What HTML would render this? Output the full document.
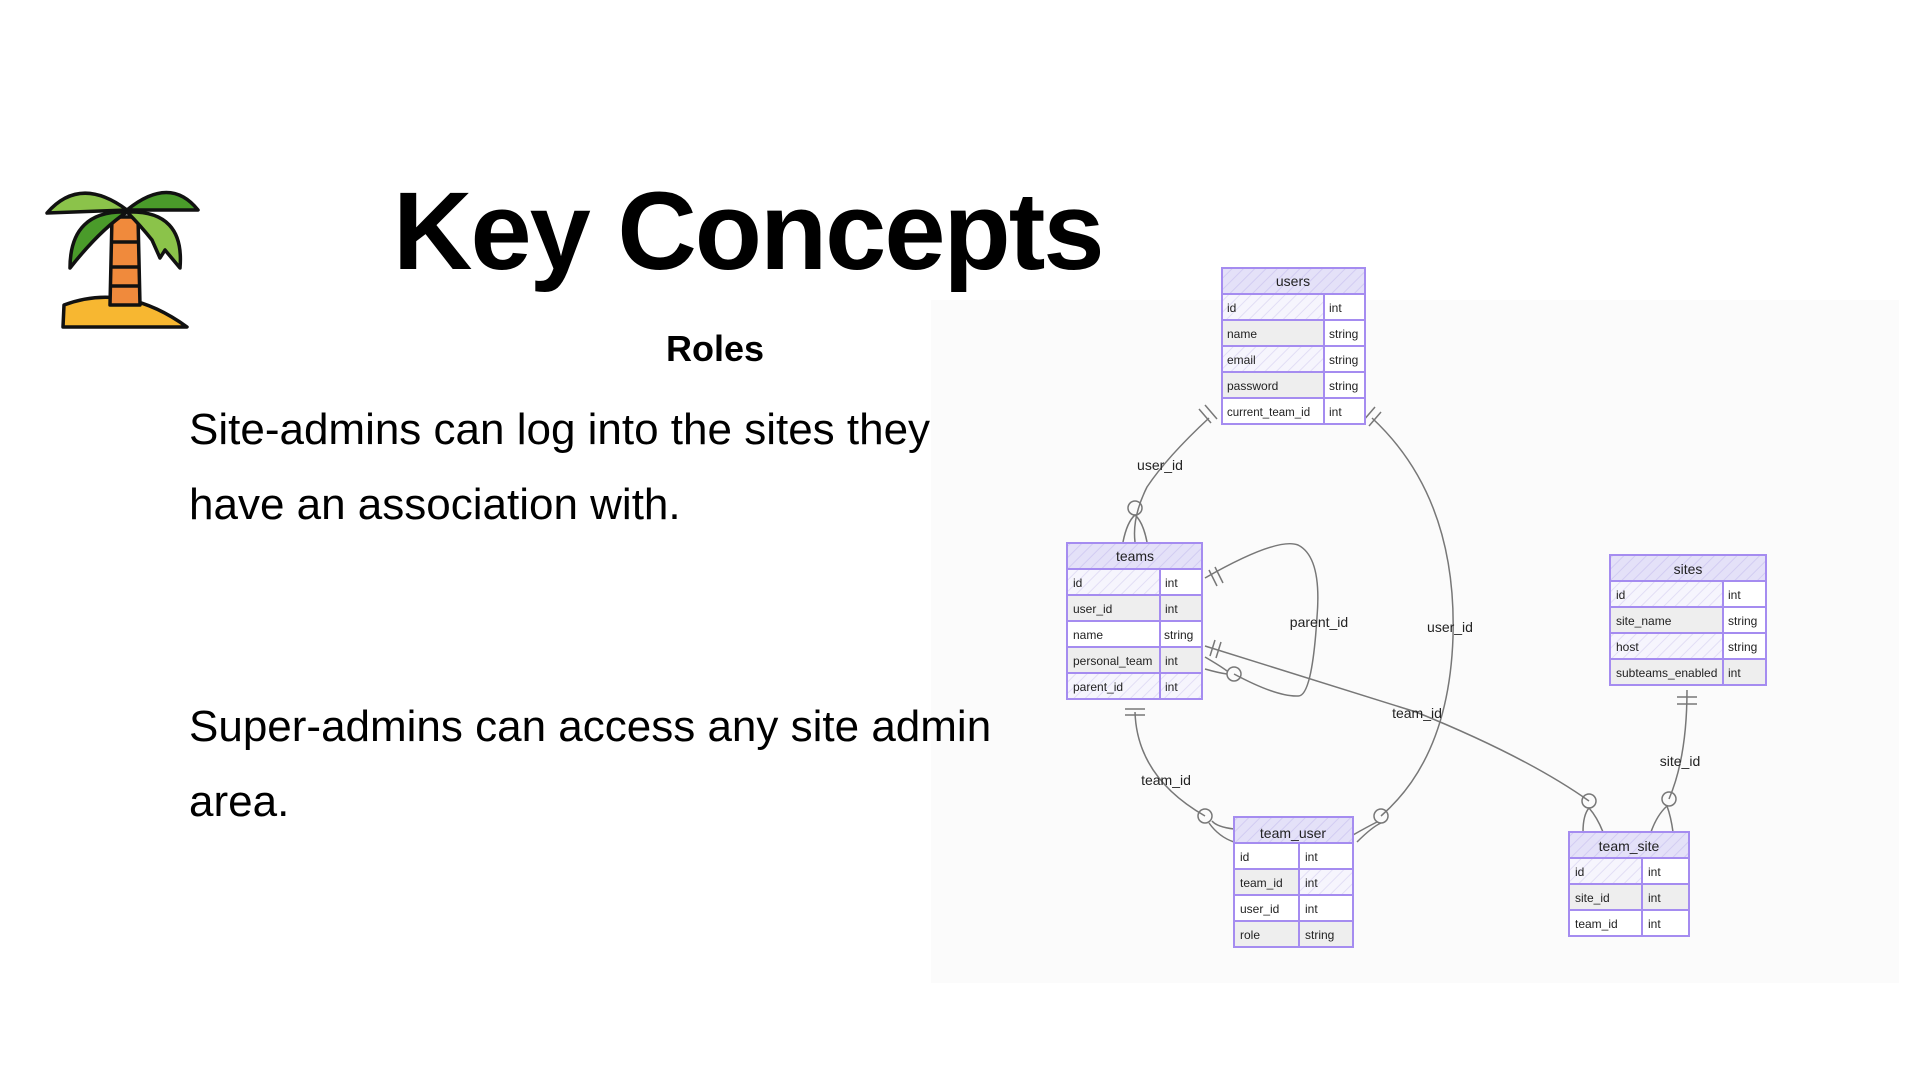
<!DOCTYPE html>
<html><head><meta charset="utf-8"><style>
html,body{margin:0;padding:0;background:#fff;}
body{width:1920px;height:1080px;position:relative;overflow:hidden;font-family:"Liberation Sans",sans-serif;}
.t{position:absolute;white-space:nowrap;color:#000;}
</style></head><body>
<div style="position:absolute;left:931px;top:300px;width:968px;height:683px;background:#fbfbfb;"></div>

<svg style="position:absolute;left:30px;top:170px" width="190" height="170" viewBox="0 0 190 170">
 <g stroke="#111" stroke-width="3.5" stroke-linejoin="round">
  <path d="M34 135 Q95 112 157 157 L33 157 Z" fill="#f7b731"/>
  <path d="M82 47 L108 47 L110 135 L80 135 Z" fill="#f08a3c"/>
  <line x1="81" y1="72" x2="109" y2="72"/><line x1="80" y1="97" x2="110" y2="97"/><line x1="80" y1="116" x2="110" y2="116"/>
  <path d="M17 43 Q50 5 97 40 Z" fill="#8bc34a"/>
  <path d="M97 40 Q140 5 168 40 Z" fill="#4a9b2a"/>
  <path d="M97 42 Q40 40 40 98 Q70 60 97 42 Z" fill="#4a9b2a"/>
  <path d="M97 42 Q155 40 150 98 L135 80 L130 88 L122 70 Q110 55 97 42 Z" fill="#8bc34a"/>
 </g>
</svg>

<div class="t" style="left:393px;top:167px;font-size:110px;font-weight:bold;letter-spacing:-2px;line-height:130px;">Key Concepts</div>
<div class="t" style="left:666px;top:327px;font-size:36px;font-weight:bold;line-height:44px;">Roles</div>
<div class="t" style="left:189px;top:405px;font-size:44px;line-height:50px;">Site-admins can log into the sites they</div>
<div class="t" style="left:189px;top:480px;font-size:44px;line-height:50px;">have an association with.</div>
<div class="t" style="left:189px;top:702px;font-size:44px;line-height:50px;">Super-admins can access any site admin</div>
<div class="t" style="left:189px;top:777px;font-size:44px;line-height:50px;">area.</div>

<svg style="position:absolute;left:0;top:0" width="1920" height="1080" viewBox="0 0 1920 1080" font-family="Liberation Sans, sans-serif">
<defs>
 <pattern id="h" width="8" height="8" patternUnits="userSpaceOnUse" patternTransform="rotate(45)">
  <rect width="8" height="8" fill="#f6f5fd"/><line x1="0" y1="0" x2="0" y2="8" stroke="#e2def5" stroke-width="2"/>
 </pattern>
 <pattern id="hh" width="8" height="8" patternUnits="userSpaceOnUse" patternTransform="rotate(45)">
  <rect width="8" height="8" fill="#e4e1f8"/><line x1="0" y1="0" x2="0" y2="8" stroke="#d2ccf2" stroke-width="2"/>
 </pattern>
</defs>
<g transform="translate(-13,-3)">
<g fill="none" stroke="#777" stroke-width="1.5">
 <path d="M1222 421 Q1180 460 1160 490 Q1145 520 1148 545"/>
 <path d="M1385 421 Q1470 500 1466 640 Q1462 760 1394 819"/>
 <path d="M1218 581 Q1290 540 1311 548 Q1335 560 1330 620 Q1325 700 1311 699 Q1290 700 1247 677"/>
 <path d="M1218 649 L1429 715 Q1540 760 1602 804"/>
 <path d="M1148 715 Q1150 780 1218 819"/>
 <path d="M1700 693 Q1700 760 1682 802"/>
 <circle cx="1148" cy="511" r="7"/><path d="M1136 545 Q1140 525 1148 518 Q1156 525 1160 545"/>
 <path d="M1212 412 l12 14 M1218 408 l12 14"/>
 <path d="M1388 410 l-12 14 M1394 415 l-12 14"/>
 <circle cx="1394" cy="819" r="7"/><path d="M1366 838 Q1380 830 1390 825 M1370 845 Q1385 830 1394 826"/>
 <path d="M1222 573 l8 16 M1228 570 l8 16"/>
 <circle cx="1247" cy="677" r="7"/><path d="M1218 660 Q1235 670 1240 674 M1218 672 Q1232 676 1240 677"/>
 <path d="M1228 643 l-5 16 M1234 645 l-5 16"/>
 <circle cx="1602" cy="804" r="7"/><path d="M1596 835 Q1596 818 1602 811 Q1610 820 1616 835"/>
 <path d="M1138 712 l20 0 M1138 718 l20 0"/>
 <circle cx="1218" cy="819" r="7"/><path d="M1247 832 Q1230 830 1225 824 M1247 845 Q1232 840 1222 826"/>
 <path d="M1690 700 l20 0 M1690 707 l20 0"/>
 <circle cx="1682" cy="802" r="7"/><path d="M1664 835 Q1670 818 1680 809 Q1684 820 1686 835"/>
</g>
<g font-size="14" fill="#222">
 <text x="1173" y="473" text-anchor="middle">user_id</text>
 <text x="1463" y="635" text-anchor="middle">user_id</text>
 <text x="1332" y="630" text-anchor="middle">parent_id</text>
 <text x="1430" y="721" text-anchor="middle">team_id</text>
 <text x="1179" y="788" text-anchor="middle">team_id</text>
 <text x="1693" y="769" text-anchor="middle">site_id</text>
</g>
<g stroke="#a58cf0" stroke-width="2" font-size="12" fill="#222">
 <rect x="1235" y="271" width="143" height="26" fill="url(#hh)"/>
 <rect x="1235" y="297" width="102" height="26" fill="url(#h)"/><rect x="1337" y="297" width="41" height="26" fill="#fff"/>
 <rect x="1235" y="323" width="102" height="26" fill="#eee"/><rect x="1337" y="323" width="41" height="26" fill="#fff"/>
 <rect x="1235" y="349" width="102" height="26" fill="url(#h)"/><rect x="1337" y="349" width="41" height="26" fill="#fff"/>
 <rect x="1235" y="375" width="102" height="26" fill="#eee"/><rect x="1337" y="375" width="41" height="26" fill="#fff"/>
 <rect x="1235" y="401" width="102" height="26" fill="#fff"/><rect x="1337" y="401" width="41" height="26" fill="#fff"/>
 <rect x="1080" y="546" width="135" height="26" fill="url(#hh)"/>
 <rect x="1080" y="572" width="93" height="26" fill="url(#h)"/><rect x="1173" y="572" width="42" height="26" fill="#fff"/>
 <rect x="1080" y="598" width="93" height="26" fill="#eee"/><rect x="1173" y="598" width="42" height="26" fill="#eee"/>
 <rect x="1080" y="624" width="93" height="26" fill="#fff"/><rect x="1173" y="624" width="42" height="26" fill="#fff"/>
 <rect x="1080" y="650" width="93" height="26" fill="#eee"/><rect x="1173" y="650" width="42" height="26" fill="#eee"/>
 <rect x="1080" y="676" width="93" height="26" fill="url(#h)"/><rect x="1173" y="676" width="42" height="26" fill="url(#h)"/>
 <rect x="1623" y="558" width="156" height="26" fill="url(#hh)"/>
 <rect x="1623" y="584" width="113" height="26" fill="url(#h)"/><rect x="1736" y="584" width="43" height="26" fill="#fff"/>
 <rect x="1623" y="610" width="113" height="26" fill="#eee"/><rect x="1736" y="610" width="43" height="26" fill="#fff"/>
 <rect x="1623" y="636" width="113" height="26" fill="url(#h)"/><rect x="1736" y="636" width="43" height="26" fill="#fff"/>
 <rect x="1623" y="662" width="113" height="26" fill="#eee"/><rect x="1736" y="662" width="43" height="26" fill="#eee"/>
 <rect x="1247" y="820" width="119" height="26" fill="url(#hh)"/>
 <rect x="1247" y="846" width="65" height="26" fill="#fff"/><rect x="1312" y="846" width="54" height="26" fill="#fff"/>
 <rect x="1247" y="872" width="65" height="26" fill="#eee"/><rect x="1312" y="872" width="54" height="26" fill="url(#h)"/>
 <rect x="1247" y="898" width="65" height="26" fill="#fff"/><rect x="1312" y="898" width="54" height="26" fill="#fff"/>
 <rect x="1247" y="924" width="65" height="26" fill="#eee"/><rect x="1312" y="924" width="54" height="26" fill="#eee"/>
 <rect x="1582" y="835" width="120" height="26" fill="url(#hh)"/>
 <rect x="1582" y="861" width="73" height="26" fill="url(#h)"/><rect x="1655" y="861" width="47" height="26" fill="#fff"/>
 <rect x="1582" y="887" width="73" height="26" fill="#eee"/><rect x="1655" y="887" width="47" height="26" fill="#eee"/>
 <rect x="1582" y="913" width="73" height="26" fill="#fff"/><rect x="1655" y="913" width="47" height="26" fill="#fff"/>
</g>
<g font-size="12" fill="#222" stroke="none">
 <text x="1306" y="289" font-size="14" text-anchor="middle">users</text>
 <text x="1240" y="315">id</text><text x="1342" y="315">int</text>
 <text x="1240" y="341">name</text><text x="1342" y="341">string</text>
 <text x="1240" y="367">email</text><text x="1342" y="367">string</text>
 <text x="1240" y="393">password</text><text x="1342" y="393">string</text>
 <text x="1240" y="419" font-size="11.5">current_team_id</text><text x="1342" y="419">int</text>
 <text x="1148" y="564" font-size="14" text-anchor="middle">teams</text>
 <text x="1086" y="590">id</text><text x="1178" y="590">int</text>
 <text x="1086" y="616">user_id</text><text x="1178" y="616">int</text>
 <text x="1086" y="642">name</text><text x="1177" y="642">string</text>
 <text x="1086" y="668">personal_team</text><text x="1178" y="668">int</text>
 <text x="1086" y="694">parent_id</text><text x="1178" y="694">int</text>
 <text x="1701" y="577" font-size="14" text-anchor="middle">sites</text>
 <text x="1629" y="602">id</text><text x="1741" y="602">int</text>
 <text x="1629" y="628">site_name</text><text x="1741" y="628">string</text>
 <text x="1629" y="654">host</text><text x="1741" y="654">string</text>
 <text x="1629" y="680">subteams_enabled</text><text x="1741" y="680">int</text>
 <text x="1306" y="841" font-size="14" text-anchor="middle">team_user</text>
 <text x="1253" y="864">id</text><text x="1318" y="864">int</text>
 <text x="1253" y="890">team_id</text><text x="1318" y="890">int</text>
 <text x="1253" y="916">user_id</text><text x="1318" y="916">int</text>
 <text x="1253" y="942">role</text><text x="1318" y="942">string</text>
 <text x="1642" y="854" font-size="14" text-anchor="middle">team_site</text>
 <text x="1588" y="879">id</text><text x="1661" y="879">int</text>
 <text x="1588" y="905">site_id</text><text x="1661" y="905">int</text>
 <text x="1588" y="931">team_id</text><text x="1661" y="931">int</text>
</g>
</g>
</svg>
</body></html>
